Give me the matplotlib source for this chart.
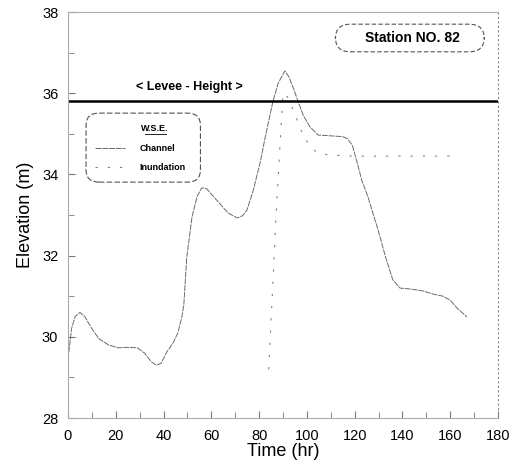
import numpy as np
import matplotlib
matplotlib.use("Agg")
import matplotlib.pyplot as plt
from matplotlib.patches import FancyBboxPatch
from matplotlib.ticker import MultipleLocator

plt.rcParams['font.family'] = ['Liberation Sans', 'DejaVu Sans']

# channel water surface elevation
t_channel = [0, 1.5, 3, 5, 7, 10, 13, 17, 21, 25, 29, 32, 35, 37, 39, 41.4, 44, 46,
             47.7, 48.5, 49.7, 51.9, 54, 56, 58, 61, 64, 67, 70.8, 73, 74.9, 77.5,
             80.4, 82.5, 85.8, 88, 90.8, 92.5, 94.5, 96.3, 98.5, 101.3, 104.7, 110,
             115, 117, 119, 121, 123, 125.6, 129.8, 133, 136, 139, 143, 148.6, 153,
             157, 160, 163, 167]
wse_channel = [29.45, 30.2, 30.5, 30.6, 30.5, 30.2, 29.95, 29.8, 29.73, 29.74, 29.73,
               29.6, 29.38, 29.3, 29.35, 29.63, 29.85, 30.1, 30.5, 30.8, 31.95, 32.95,
               33.45, 33.67, 33.65, 33.45, 33.25, 33.05, 32.93, 32.98, 33.12, 33.6,
               34.28, 34.9, 35.8, 36.25, 36.55, 36.4, 36.1, 35.8, 35.45, 35.17, 34.97,
               34.95, 34.93, 34.88, 34.72, 34.3, 33.85, 33.44, 32.63, 31.95, 31.4,
               31.2, 31.18, 31.13, 31.05, 31.0, 30.9, 30.7, 30.49]

# inundation water surface elevation
t_inund = [84, 85, 86, 87, 88, 89, 90, 92, 95.8, 98.8, 103.8, 108.8, 120, 130, 140,
           150, 160]
wse_inund = [29.2, 30.4, 31.6, 32.9, 33.9, 35.0, 36.0, 35.9, 35.36, 34.9, 34.55,
             34.48, 34.45, 34.45, 34.45, 34.45, 34.45]

levee_height = 35.8

fig = plt.figure(figsize=(5.1, 4.62), dpi=100)
ax = fig.add_axes([0.1333, 0.0952, 0.8432, 0.8788])

ax.plot(t_channel, wse_channel, color='#6a6a6a', lw=0.7, dashes=(6, 1))
ax.plot(t_inund, wse_inund, color='#808080', lw=0.8, dashes=(2, 9))
ax.axhline(levee_height, color='black', lw=1.8)

ax.text(51, 36.15, '< Levee - Height >', ha='center', va='center',
        fontsize=9, fontweight='bold')

# station box
ax.add_patch(FancyBboxPatch((0.625, 0.905), 0.34, 0.062,
                            boxstyle='round,pad=0.003,rounding_size=0.035',
                            transform=ax.transAxes, fill=False,
                            ec='#555555', lw=0.8, ls=(0, (4, 2))))
ax.text(0.802, 0.936, 'Station NO. 82', transform=ax.transAxes,
        ha='center', va='center', fontsize=10, fontweight='bold')

# legend box
ax.add_patch(FancyBboxPatch((0.045, 0.584), 0.26, 0.164,
                            boxstyle='round,pad=0.003,rounding_size=0.03',
                            transform=ax.transAxes, fill=False,
                            ec='#555555', lw=0.8, ls=(0, (5, 2))))
ax.text(0.202, 0.714, 'W.S.E.', transform=ax.transAxes, ha='center',
        va='center', fontsize=6.5, fontweight='bold')
ax.plot([0.178, 0.227], [0.700, 0.700], transform=ax.transAxes,
        color='black', lw=0.6)
ax.plot([0.063, 0.133], [0.665, 0.665], transform=ax.transAxes,
        color='#6a6a6a', lw=0.7, dashes=(6, 1))
ax.plot([0.063, 0.133], [0.618, 0.618], transform=ax.transAxes,
        color='#808080', lw=0.8, dashes=(2, 9))
ax.text(0.167, 0.665, 'Channel', transform=ax.transAxes, ha='left',
        va='center', fontsize=6.5, fontweight='bold')
ax.text(0.167, 0.618, 'Inundation', transform=ax.transAxes, ha='left',
        va='center', fontsize=6.5, fontweight='bold')

ax.set_xlim(0, 180)
ax.set_ylim(28, 38)
ax.xaxis.set_major_locator(MultipleLocator(20))
ax.xaxis.set_minor_locator(MultipleLocator(10))
ax.yaxis.set_major_locator(MultipleLocator(2))
ax.yaxis.set_minor_locator(MultipleLocator(1))
ax.tick_params(which='both', direction='in', color='#777777', labelsize=10.5)
ax.tick_params(axis='x', pad=8)
ax.tick_params(axis='y', pad=7)
ax.tick_params(which='major', length=5)
ax.tick_params(which='minor', length=4)

for side in ['left', 'top', 'bottom']:
    ax.spines[side].set_color('#aaaaaa')
    ax.spines[side].set_linewidth(0.8)
ax.spines['right'].set_color('#888888')
ax.spines['right'].set_linestyle((0, (1, 3)))
ax.spines['right'].set_linewidth(0.8)

ax.set_xlabel('Time (hr)', fontsize=13, labelpad=0)
ax.set_ylabel('Elevation (m)', fontsize=13, labelpad=6)

fig.savefig('out.png', dpi=100)
